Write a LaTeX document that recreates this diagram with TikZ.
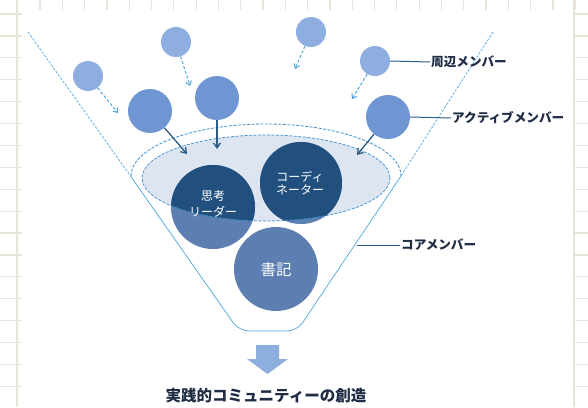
\documentclass[tikz,border=0pt]{standalone}
\usepackage{fontspec}
\setmainfont{Noto Sans CJK JP}
\usetikzlibrary{arrows.meta}
\definecolor{gridc}{HTML}{E9E4D8}
\definecolor{conec}{HTML}{4FA6DE}
\definecolor{ellc}{HTML}{3A8FD0}
\definecolor{ellfill}{HTML}{DDE5F0}
\definecolor{perc}{HTML}{8DAEDF}
\definecolor{actc}{HTML}{6F96D2}
\definecolor{coredark}{HTML}{21507E}
\definecolor{coremid}{HTML}{5C7EB0}
\definecolor{arrdark}{HTML}{2D5C86}
\definecolor{labc}{HTML}{1E2C44}
\definecolor{bigarr}{HTML}{8CAFDD}
\tikzset{
  gridline/.style={draw=gridc, line width=1.2pt},
  cone/.style={draw=conec, line width=0.7pt},
  perball/.style={circle, fill=perc, minimum size=30pt, inner sep=0pt},
  actball/.style={circle, fill=actc, minimum size=44pt, inner sep=0pt},
  perarrow/.style={draw=conec, line width=1pt, dashed, dash pattern=on 3pt off 2pt, -{Straight Barb[length=4pt,width=6pt]}},
  actarrow/.style={draw=arrdark, line width=1.3pt, -{Straight Barb[length=5pt,width=7pt]}},
  lead/.style={draw=arrdark, line width=1pt},
  lab/.style={font=\bfseries\fontsize{12.6}{12.6}\selectfont, text=labc, inner sep=1pt, anchor=west},
  intext/.style={font=\fontsize{12}{13.5}\selectfont, text=white, align=center},
}
\begin{document}
\begin{tikzpicture}[x=1pt,y=-1pt]
\useasboundingbox (0,0) rectangle (588,407);
\fill[white] (0,0) rectangle (588,407);
% grid outside panel
\foreach \k in {0,...,24} {
  \draw[gridline] ({40+22.3*\k},0) -- ({40+22.3*\k},10);
}
\foreach \k in {0,...,18} {
  \draw[gridline] (0,{14+21.9*\k}) -- (22,{14+21.9*\k});
  \draw[gridline] (573,{14+21.9*\k}) -- (588,{14+21.9*\k});
}
\draw[gridline] (17,0) -- (17,407);
\draw[gridline] (574,0) -- (574,407);
\fill[white] (22,10) rectangle (572,407);

% funnel
\draw[cone, dashed, dash pattern=on 2.5pt off 1.5pt] (28,32) -- (130.5,176);
\draw[cone, dashed, dash pattern=on 2.5pt off 1.5pt] (493,32) -- (401,176);
\draw[cone, rounded corners=10pt] (130.5,176) -- (239,331) -- (297,331) -- (401,176);
\draw[draw=ellc, line width=0.8pt, dashed, dash pattern=on 3pt off 1.5pt] (131,176) arc[start angle=180, end angle=0, x radius=135pt, y radius=52pt];

% inner ellipse
\fill[ellfill] (266,178) ellipse[x radius=124pt, y radius=43pt];

% core circles
\fill[coremid] (213,207) circle[radius=42pt];
\fill[coremid] (301,183) circle[radius=41pt];
\fill[coremid] (276,269) circle[radius=42pt];
\begin{scope}
  \clip (266,178) ellipse[x radius=124pt, y radius=43pt];
  \fill[coredark] (213,207) circle[radius=42pt];
  \fill[coredark] (301,183) circle[radius=41pt];
\end{scope}
\draw[draw=ellc, line width=0.7pt, dashed, dash pattern=on 3pt off 1.5pt] (266,178) ellipse[x radius=124pt, y radius=43pt];

\node[intext] (thinker) at (213,204) {思考\\[3pt]リーダー};
\node[intext] (coord) at (300,183) {コーディ\\ネーター};
\node[intext, font=\fontsize{15.5}{15.5}\selectfont] (secretary) at (276,270) {書記};

% peripheral members
\node[perball] (p1) at (88,76) {};
\node[perball] (p2) at (176,42) {};
\node[perball] (p3) at (311,32) {};
\node[perball] (p4) at (375,61) {};
\coordinate (e1) at (118,113);
\coordinate (e2) at (190,86);
\coordinate (e3) at (295,69);
\coordinate (e4) at (352,99);
\draw[perarrow] (p1) -- (e1);
\draw[perarrow] (p2) -- (e2);
\draw[perarrow] (p3) -- (e3);
\draw[perarrow] (p4) -- (e4);

% active members
\node[actball] (a1) at (150,111) {};
\node[actball] (a2) at (217,98) {};
\node[actball] (a3) at (388,117) {};
\coordinate (f1) at (187,154);
\coordinate (f2) at (217,149);
\coordinate (f3) at (357,155);
\draw[actarrow] (a1) -- (f1);
\draw[actarrow] (a2) -- (f2);
\draw[actarrow] (a3) -- (f3);

% labels
\node[lab] (l1) at (430,62) {周辺メンバー};
\node[lab] (l2) at (451,118) {アクティブメンバー};
\node[lab] (l3) at (400,245) {コアメンバー};
\coordinate (c3) at (357,245);
\draw[lead] (p4.east) -- (l1.west);
\draw[lead] (a3.east) -- (l2.west);
\draw[lead] (c3) -- (l3.west);

% bottom arrow and title
\fill[bigarr] (256,345) -- (279,345) -- (279,359) -- (288,359) -- (267.5,374) -- (247,359) -- (256,359) -- cycle;
\node[font=\bfseries\fontsize{15.5}{15.5}\selectfont, text=labc] (title) at (266,396) {実践的コミュニティーの創造};
\end{tikzpicture}
\end{document}
